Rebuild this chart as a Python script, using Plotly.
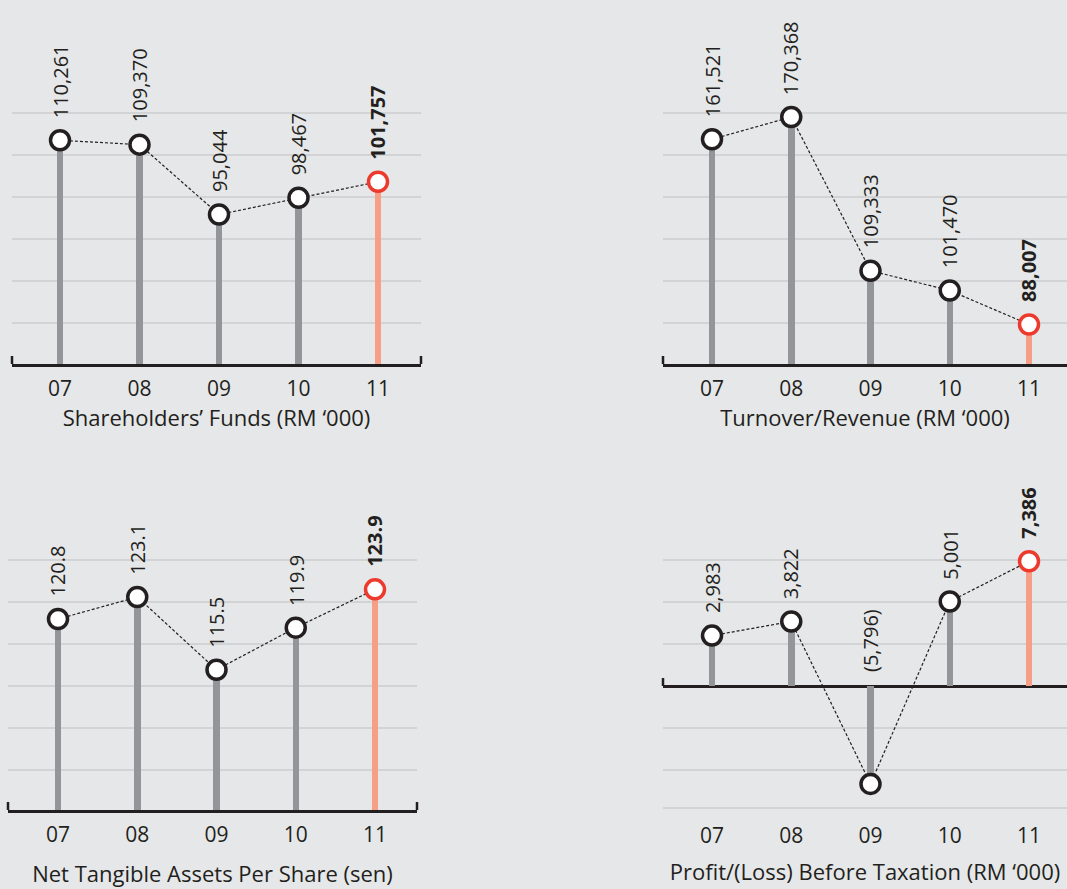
import plotly.graph_objects as go

# ---- data -------------------------------------------------------------
years = ["07", "08", "09", "10", "11"]

shareholders_funds = [110261, 109370, 95044, 98467, 101757]      # RM '000
turnover_revenue = [161521, 170368, 109333, 101470, 88007]        # RM '000
nta_per_share = [120.8, 123.1, 115.5, 119.9, 123.9]               # sen
profit_before_tax = [2983, 3822, -5796, 5001, 7386]               # RM '000


def fmt_thousands(v):
    return f"({abs(v):,})" if v < 0 else f"{v:,}"


def fmt_sen(v):
    return f"{v:.1f}"


# ---- styling ----------------------------------------------------------
W, H = 1067, 889
BG = "#e6e7e8"
GRID = "#d2d3d5"
STEM = "#939598"
STEM_HL = "#f79e86"
RING_HL = "#ec3a2d"
INK = "#231f20"
FONT = "Open Sans"
FS_TICK = 21
FS_TITLE = 22
FS_VALUE = 20

# per-panel geometry, in page pixels: plot width, bar spacing, baseline,
# value at the baseline and value units per pixel
panels = [
    dict(title="Shareholders’ Funds (RM ‘000)", values=shareholders_funds, fmt=fmt_thousands,
         x_px=(12, 421), first_bar=60, step=79.5, base_px=364, bottom_px=364, top_px=0,
         base_val=64400, upp=205, grid_px=[323, 281, 239, 197, 155, 113], right_tick=True,
         zero_axis=False, label_pad=4, title_pad=5),
    dict(title="Turnover/Revenue (RM ‘000)", values=turnover_revenue, fmt=fmt_thousands,
         x_px=(663, 1067), first_bar=712, step=79.25, base_px=364, bottom_px=364, top_px=0,
         base_val=72300, upp=397, grid_px=[323, 281, 239, 197, 155, 113], right_tick=False,
         zero_axis=False, label_pad=4, title_pad=5),
    dict(title="Net Tangible Assets Per Share (sen)", values=nta_per_share, fmt=fmt_sen,
         x_px=(8, 417), first_bar=58, step=79.25, base_px=810, bottom_px=810, top_px=455,
         base_val=100.85, upp=0.10447, grid_px=[770, 728, 686, 644, 602, 560], right_tick=True,
         zero_axis=False, label_pad=4, title_pad=20),
    dict(title="Profit/(Loss) Before Taxation (RM ‘000)", values=profit_before_tax, fmt=fmt_thousands,
         x_px=(663, 1067), first_bar=712, step=79.25, base_px=686, bottom_px=812, top_px=455,
         base_val=0, upp=59.2, grid_px=[560, 602, 644, 728, 770, 808], right_tick=False,
         zero_axis=True, label_pad=9, title_pad=16),
]

fig = go.Figure()
annotations = []
shapes = []
layout_axes = {}

for i, p in enumerate(panels, start=1):
    sfx = "" if i == 1 else str(i)
    xa, ya = f"x{sfx}", f"y{sfx}"
    vals = p["values"]
    n = len(vals)

    def val_at(px, p=p):
        return p["base_val"] + (p["base_px"] - px) * p["upp"]

    stem_colors = [STEM] * (n - 1) + [STEM_HL]
    ring_colors = [INK] * (n - 1) + [RING_HL]

    fig.add_trace(go.Bar(
        x=years, y=vals, width=6.5 / p["step"],
        marker=dict(color=stem_colors, line=dict(width=0)),
        xaxis=xa, yaxis=ya, showlegend=False, hoverinfo="skip"))
    fig.add_trace(go.Scatter(
        x=years, y=vals, mode="lines",
        line=dict(color=INK, width=1.2, dash="3px,2px"),
        xaxis=xa, yaxis=ya, showlegend=False, hoverinfo="skip"))
    fig.add_trace(go.Scatter(
        x=years, y=vals, mode="markers", cliponaxis=False,
        marker=dict(size=19, color="white", line=dict(color=ring_colors, width=3.5)),
        xaxis=xa, yaxis=ya, showlegend=False, hoverinfo="skip"))

    # value labels, read bottom-to-top above each marker
    # (category axes take the serial index of each year)
    for j, v in enumerate(vals):
        txt = p["fmt"](v)
        if j == n - 1:
            txt = f"<b>{txt}</b>"
        annotations.append(dict(
            x=j, y=v if v >= 0 else 0, xref=xa, yref=ya,
            text=txt, textangle=-90, showarrow=False,
            xanchor="center", yanchor="bottom",
            yshift=20 if v >= 0 else 12,
            font=dict(family=FONT, size=FS_VALUE, color=INK)))

    # end ticks of the baseline
    tick_h = 8 * p["upp"]
    ends = [0, 1] if p["right_tick"] else [0]
    for e in ends:
        shapes.append(dict(
            type="line", xref=f"{xa} domain", yref=ya,
            x0=e, x1=e, y0=p["base_val"], y1=p["base_val"] + tick_h,
            line=dict(color=INK, width=2.5)))

    x0, x1 = p["x_px"]
    layout_axes[f"xaxis{sfx}"] = dict(
        type="category", anchor=ya,
        domain=[x0 / W, x1 / W],
        range=[(x0 - p["first_bar"]) / p["step"], (x1 - p["first_bar"]) / p["step"]],
        showgrid=False, zeroline=False, ticks="",
        showline=not p["zero_axis"], linecolor=INK, linewidth=2.5,
        tickfont=dict(family=FONT, size=FS_TICK, color=INK),
        ticklabelstandoff=p["label_pad"],
        title=dict(text=p["title"], font=dict(family=FONT, size=FS_TITLE, color=INK),
                   standoff=p["title_pad"]),
        fixedrange=True)
    layout_axes[f"yaxis{sfx}"] = dict(
        anchor=xa,
        domain=[1 - p["bottom_px"] / H, 1 - p["top_px"] / H],
        range=[val_at(p["bottom_px"]), val_at(p["top_px"])],
        tickvals=[val_at(g) for g in p["grid_px"]],
        showticklabels=False, ticks="",
        showgrid=True, gridcolor=GRID, gridwidth=1.5,
        zeroline=p["zero_axis"], zerolinecolor=INK, zerolinewidth=2.5,
        showline=False, fixedrange=True)

fig.update_layout(
    width=W, height=H,
    margin=dict(l=0, r=0, t=0, b=0),
    paper_bgcolor=BG, plot_bgcolor=BG,
    font=dict(family=FONT, color=INK),
    annotations=annotations, shapes=shapes,
    bargap=0, showlegend=False,
    **layout_axes)

fig.write_html("out.html")
